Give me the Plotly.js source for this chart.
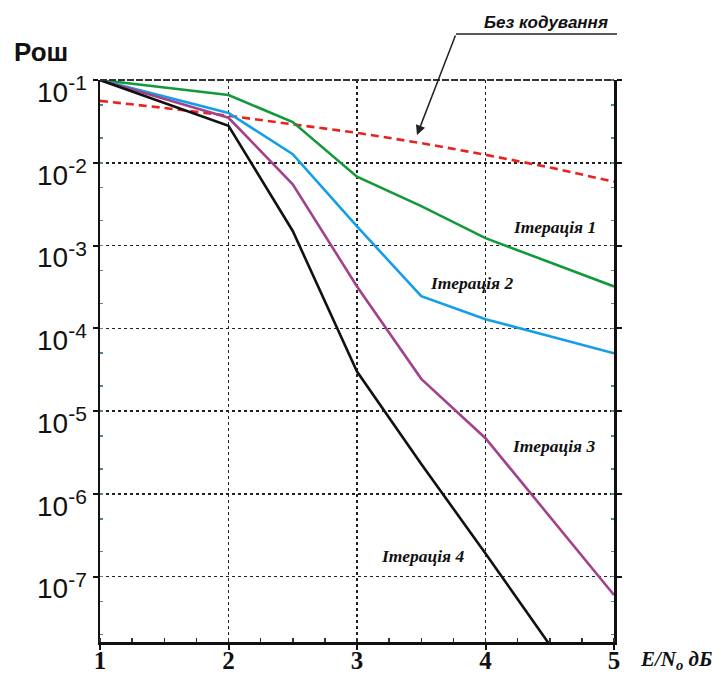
<!DOCTYPE html>
<html>
<head>
<meta charset="utf-8">
<script src="https://cdn.plot.ly/plotly-3.0.1.min.js"></script>
<style>html,body{margin:0;padding:0;background:#fff;}#chart{width:723px;height:673px;}</style>
</head>
<body>
<div id="chart"></div>
<script>
// ---- data ----
const xUncoded = [1, 1.5, 2, 2.5, 3, 3.5, 4, 4.5, 5];
const yUncoded = [0.056, 0.046, 0.037, 0.029, 0.023, 0.0173, 0.0125, 0.0088, 0.0059];

const xIter1 = [1, 2, 2.5, 3, 3.5, 4, 5];
const yIter1 = [0.1, 0.066, 0.031, 0.0068, 0.0030, 0.00123, 0.00032];

const xIter2 = [1, 2, 2.5, 3, 3.5, 4, 5];
const yIter2 = [0.1, 0.040, 0.0127, 0.0017, 0.000245, 0.000129, 0.000050];

const xIter3 = [1, 2, 2.5, 3, 3.5, 4, 5];
const yIter3 = [0.1, 0.035, 0.0055, 0.00032, 0.0000245, 0.0000047, 0.00000006];

const xIter4 = [1, 2, 2.5, 3, 3.5, 4, 4.5];
const yIter4 = [0.1, 0.028, 0.0015, 0.000030, 0.0000023, 0.00000019, 0.000000015];

const xTickVals = [1, 2, 3, 4, 5];
const yTickVals = [1e-1, 1e-2, 1e-3, 1e-4, 1e-5, 1e-6, 1e-7];
const yExponents = ['-1', '-2', '-3', '-4', '-5', '-6', '-7'];

const labels = {
  yTitle: 'Рош',
  xTitle: 'E/N<sub>o</sub> дБ',
  uncoded: 'Без кодування',
  it1: 'Ітерація 1', it2: 'Ітерація 2', it3: 'Ітерація 3', it4: 'Ітерація 4'
};

const yTickText = yExponents.map(e => '10<sup><span style="font-size:21px">' + e + '</span></sup>');

// ---- layout helpers (pixel -> paper) ----
const L = 100, R = 614, T = 80, B = 642;
const px = x => (x - L) / (R - L);
const py = y => (B - y) / (B - T);

const lw = 2.6;
const traces = [
  {x: xUncoded, y: yUncoded, mode: 'lines', line: {color: '#e8231e', width: lw, dash: '8px,5px'}},
  {x: xIter1, y: yIter1, mode: 'lines', line: {color: '#13993a', width: lw}},
  {x: xIter2, y: yIter2, mode: 'lines', line: {color: '#139fe8', width: lw}},
  {x: xIter3, y: yIter3, mode: 'lines', line: {color: '#a2428a', width: lw}},
  {x: xIter4, y: yIter4, mode: 'lines', line: {color: '#111111', width: lw}}
];

const itFont = {family: 'Liberation Serif', size: 17.5, weight: 'bold', style: 'italic', color: '#111'};
const itAnn = (x, y, text) => ({xref: 'paper', yref: 'paper', x: px(x), y: py(y),
  xanchor: 'center', yanchor: 'middle', text: text, showarrow: false, font: itFont});

const layout = {
  width: 723, height: 673,
  margin: {l: L, r: 723 - R, t: T, b: 673 - B},
  paper_bgcolor: '#fff', plot_bgcolor: '#fff',
  showlegend: false,
  xaxis: {
    range: [1, 5], tickvals: xTickVals, ticks: 'outside', ticklen: 5, tickwidth: 2, tickcolor: '#111',
    showline: true, linewidth: 2.5, linecolor: '#111', zeroline: false,
    showgrid: true, gridcolor: '#222', griddash: 'dot', gridwidth: 1.5,
    ticklabelstandoff: -11,
    tickfont: {family: 'Liberation Serif', size: 25, weight: 'bold', color: '#111'},
    minor: {dtick: 0.25, ticks: 'inside', ticklen: 4, tickwidth: 1.5, tickcolor: '#333', showgrid: false}
  },
  yaxis: {
    type: 'log', range: [-7.79, -1], tickvals: yTickVals, ticktext: yTickText,
    ticks: 'outside', ticklen: 5, tickwidth: 2, tickcolor: '#111',
    showline: true, linewidth: 2.5, linecolor: '#111', mirror: 'ticks', zeroline: false,
    showgrid: true, gridcolor: '#222', griddash: 'dot', gridwidth: 1.5,
    ticklabelshift: 12,
    tickfont: {family: 'Liberation Sans', size: 28, color: '#111'},
    minor: {ticks: 'inside', ticklen: 3, tickwidth: 1.5, tickcolor: '#4a8a9a', showgrid: false}
  },
  shapes: [
    {type: 'line', xref: 'paper', yref: 'paper', x0: 0, x1: 1, y0: 1, y1: 1,
     line: {color: '#333', width: 2, dash: '7px,2px'}},
    {type: 'line', xref: 'paper', yref: 'paper', x0: px(456), x1: px(617), y0: py(34), y1: py(34),
     line: {color: '#222', width: 1.5}}
  ],
  annotations: [
    {xref: 'paper', yref: 'paper', x: px(12), y: py(52), xanchor: 'left', yanchor: 'middle',
     text: labels.yTitle, showarrow: false,
     font: {family: 'Liberation Sans', size: 26, weight: 'bold', color: '#111'}},
    {xref: 'paper', yref: 'paper', x: px(638), y: py(660), xanchor: 'left', yanchor: 'middle',
     text: labels.xTitle, showarrow: false,
     font: {family: 'Liberation Serif', size: 21, weight: 'bold', style: 'italic', color: '#111'}},
    {xref: 'paper', yref: 'paper', x: px(546), y: py(22), xanchor: 'center', yanchor: 'middle',
     text: labels.uncoded, showarrow: false,
     font: {family: 'Liberation Sans', size: 17, weight: 'bold', style: 'italic', color: '#111'}},
    {xref: 'paper', yref: 'paper', x: px(417), y: py(135), text: '', showarrow: true,
     ax: 39, ay: -101, arrowhead: 2, arrowsize: 1.3, arrowwidth: 1.5, arrowcolor: '#222', standoff: 0},
    itAnn(554, 227, labels.it1),
    itAnn(471, 283, labels.it2),
    itAnn(553, 446, labels.it3),
    itAnn(422, 556, labels.it4)
  ]
};

Plotly.newPlot('chart', traces, layout, {displayModeBar: false, staticPlot: true});
</script>
</body>
</html>
